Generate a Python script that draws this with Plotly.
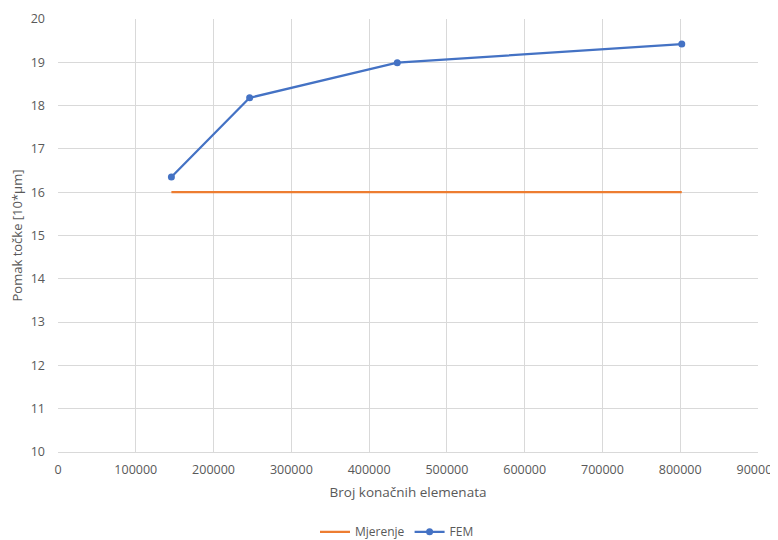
import plotly.graph_objects as go

elements = [145800, 246400, 436200, 802000]
fem = [16.35, 18.18, 18.99, 19.42]
mjerenje = [16, 16, 16, 16]

x_ticks = [0, 100000, 200000, 300000, 400000, 500000, 600000, 700000, 800000, 900000]
y_ticks = [10, 11, 12, 13, 14, 15, 16, 17, 18, 19, 20]

fig = go.Figure()
fig.add_trace(go.Scatter(x=elements, y=mjerenje, mode="lines", name="Mjerenje",
                         line=dict(color="#ED7D31", width=2.25)))
fig.add_trace(go.Scatter(x=elements, y=fem, mode="lines+markers", name="FEM",
                         line=dict(color="#4472C4", width=2.25),
                         marker=dict(color="#4472C4", size=7)))

font_family = "Open Sans, Liberation Sans, sans-serif"
fig.update_layout(
    width=778, height=540,
    margin=dict(l=50, r=28, t=11, b=96, autoexpand=False),
    paper_bgcolor="white", plot_bgcolor="white",
    font=dict(family=font_family, size=12, color="#595959"),
    showlegend=True,
    legend=dict(orientation="h", x=0.5, xanchor="center", xref="container",
                y=0.03, yanchor="middle", yref="container",
                font=dict(size=12, color="#595959"), traceorder="normal"),
    xaxis=dict(range=[0, 900000], tickvals=x_ticks, ticktext=[str(v) for v in x_ticks],
               showgrid=True, gridcolor="#D9D9D9", gridwidth=1,
               showline=True, linecolor="#D9D9D9", zeroline=False,
               ticks="", ticklabelstandoff=6, automargin=False,
               ticklabeloverflow="allow",
               tickfont=dict(size=12.5, color="#595959"),
               title=dict(text="Broj konačnih elemenata", font=dict(size=13.5, color="#595959"),
                          standoff=10)),
    yaxis=dict(range=[10, 20], tickvals=y_ticks, ticktext=[str(v) for v in y_ticks],
               showgrid=True, gridcolor="#D9D9D9", gridwidth=1,
               showline=False, zeroline=False,
               ticks="", ticklabelstandoff=12, automargin=False,
               ticklabeloverflow="allow",
               tickfont=dict(size=12.5, color="#595959"),
               title=dict(text="Pomak točke [10*μm]", font=dict(size=13, color="#595959"),
                          standoff=8)),
)

fig.write_html("out.html")
